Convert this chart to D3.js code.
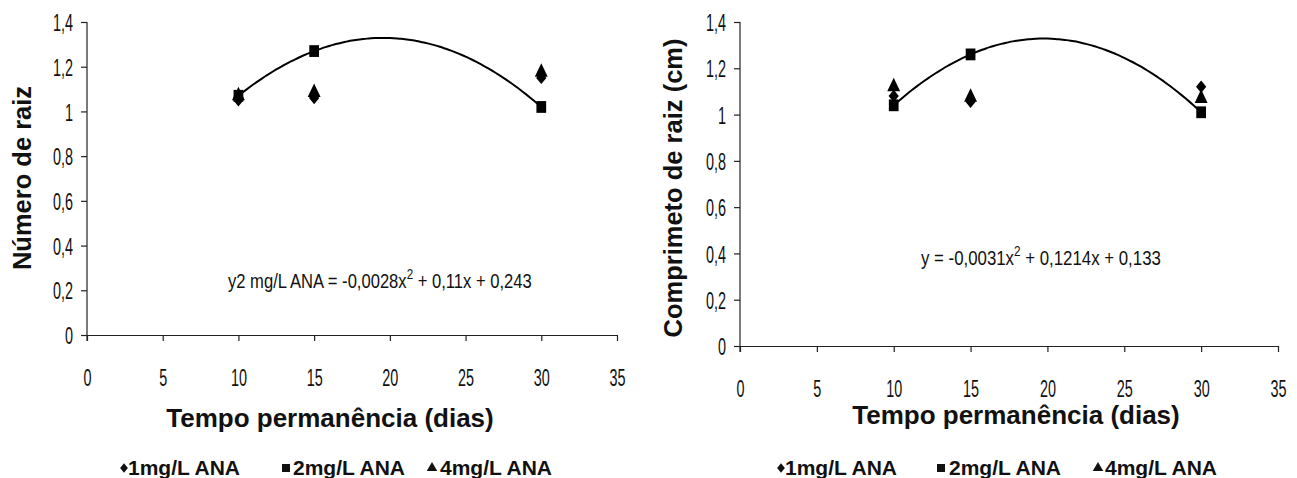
<!DOCTYPE html>
<html>
<head>
<meta charset="utf-8">
<script src="https://cdn.jsdelivr.net/npm/d3@7"></script>
<style>
  html, body { margin: 0; padding: 0; background: #fff; }
  svg { display: block; }
  text { font-family: "Liberation Sans", Arial, sans-serif; fill: #111; }
</style>
</head>
<body>
<svg id="chart" width="1297" height="478"></svg>
<script>
// ---------- data ----------
const days = [10, 15, 30];
const seriesNames = ["1mg/L ANA", "2mg/L ANA", "4mg/L ANA"];

// Left chart: Número de raiz
const raizNum1 = [1.05, 1.06, 1.15];
const raizNum2 = [1.07, 1.27, 1.02];
const raizNum4 = [1.07, 1.085, 1.175];

// Right chart: Comprimento de raiz (cm)
const raizComp1 = [1.08, 1.055, 1.12];
const raizComp2 = [1.04, 1.26, 1.01];
const raizComp4 = [1.12, 1.075, 1.07];

const xTickValues = [0, 5, 10, 15, 20, 25, 30, 35];
const xTickLabels = ["0", "5", "10", "15", "20", "25", "30", "35"];
const yTickValues = [0, 0.2, 0.4, 0.6, 0.8, 1, 1.2, 1.4];
const yTickLabels = ["0", "0,2", "0,4", "0,6", "0,8", "1", "1,2", "1,4"];

const leftEquation = ["y2 mg/L ANA = -0,0028x", "2", " + 0,11x + 0,243"];
const rightEquation = ["y = -0,0031x", "2", " + 0,1214x + 0,133"];

// ---------- helpers ----------
const svg = d3.select("#chart");

// least-squares quadratic fit (trendline of the 2 mg/L series)
function quadFit(xs, ys) {
  const n = xs.length;
  let S = [0,0,0,0,0], T = [0,0,0];
  for (let i = 0; i < n; i++) {
    const x = xs[i], y = ys[i];
    for (let k = 0; k < 5; k++) S[k] += Math.pow(x, k);
    for (let k = 0; k < 3; k++) T[k] += y * Math.pow(x, k);
  }
  const A = [[S[0],S[1],S[2],T[0]],[S[1],S[2],S[3],T[1]],[S[2],S[3],S[4],T[2]]];
  for (let i = 0; i < 3; i++) {
    let p = i;
    for (let r = i+1; r < 3; r++) if (Math.abs(A[r][i]) > Math.abs(A[p][i])) p = r;
    [A[i], A[p]] = [A[p], A[i]];
    for (let r = 0; r < 3; r++) if (r !== i) {
      const f = A[r][i] / A[i][i];
      for (let c = i; c < 4; c++) A[r][c] -= f * A[i][c];
    }
  }
  const c0 = A[0][3]/A[0][0], c1 = A[1][3]/A[1][1], c2 = A[2][3]/A[2][2];
  return x => c0 + c1*x + c2*x*x;
}

function condensed(parent, x, y, parts, size, targetW) {
  const g = parent.append("g");
  const t = g.append("text").attr("font-size", size).attr("fill", "#111");
  t.append("tspan").text(parts[0]);
  t.append("tspan").attr("font-size", size*0.7).attr("dy", -size*0.42).text(parts[1]);
  t.append("tspan").attr("dy", size*0.42).text(parts[2]);
  const w = t.node().getComputedTextLength();
  const sx = targetW / w;
  g.attr("transform", `translate(${x},${y}) scale(${sx},1)`);
}

// marker shapes (Excel style)
const markerDefs = [
  {type: d3.symbolSquare, size: 58, rot: 45},   // diamond
  {type: d3.symbolSquare, size: 105, rot: 0},   // square
  {type: d3.symbolTriangle, size: 80, rot: 0}   // triangle
];

const tickSX = 0.6;

function drawPanel(cfg) {
  const x = d3.scaleLinear().domain([0, 35]).range([cfg.x0, cfg.x1]);
  const y = d3.scaleLinear().domain([0, 1.4]).range([cfg.y0, cfg.y1]);
  const g = svg.append("g");

  // x axis
  const xa = g.append("g").attr("transform", `translate(0,${cfg.y0})`)
    .call(d3.axisBottom(x).tickValues(xTickValues)
      .tickFormat((d, i) => xTickLabels[i]).tickSize(6).tickSizeOuter(0).tickPadding(0));
  xa.select(".domain").attr("stroke", "#222").attr("stroke-width", 1.2);
  xa.selectAll(".tick line").attr("stroke", "#222").attr("stroke-width", 1.2);
  xa.selectAll(".tick text")
    .attr("font-size", 24).attr("fill", "#111")
    .attr("font-family", "'Liberation Sans', Arial, sans-serif")
    .attr("y", cfg.xLabelDy).attr("dy", 0)
    .attr("transform", `scale(${tickSX},1)`);

  // y axis
  const ya = g.append("g").attr("transform", `translate(${cfg.x0},0)`)
    .call(d3.axisLeft(y).tickValues(yTickValues)
      .tickFormat((d, i) => yTickLabels[i]).tickSize(6).tickSizeOuter(0));
  ya.select(".domain").attr("stroke", "#222").attr("stroke-width", 1.2)
    .attr("d", `M0,${cfg.y1}V${cfg.y0 + 6}`);
  ya.selectAll(".tick line").attr("stroke", "#222").attr("stroke-width", 1.2);
  ya.selectAll(".tick text")
    .attr("font-size", 24).attr("fill", "#111")
    .attr("font-family", "'Liberation Sans', Arial, sans-serif")
    .attr("x", -14 / tickSX).attr("dy", "0.36em")
    .attr("transform", `scale(${tickSX},1)`);

  // trendline
  const f = quadFit(days, cfg.s2);
  const xs = d3.range(days[0], days[days.length-1] + 0.001, 0.25);
  g.append("path")
    .attr("d", d3.line().x(d => x(d)).y(d => y(f(d))).curve(d3.curveBasis)(xs))
    .attr("fill", "none").attr("stroke", "#000").attr("stroke-width", 2);

  // markers
  [cfg.s1, cfg.s2, cfg.s4].forEach((vals, si) => {
    const m = markerDefs[si];
    g.selectAll(null).data(days.map((d, i) => [d, vals[i]])).join("path")
      .attr("transform", d => `translate(${x(d[0])},${y(d[1])}) scale(0.95,1.15) rotate(${m.rot})`)
      .attr("d", d3.symbol().type(m.type).size(m.size))
      .attr("fill", "#000");
  });

  // axis titles
  g.append("text")
    .attr("transform", `translate(${cfg.yTitleX},${cfg.yTitleY}) rotate(-90)`)
    .attr("text-anchor", "middle").attr("dy", "0.36em")
    .attr("font-size", 25.5).attr("font-weight", "bold").attr("fill", "#1a1a1a")
    .text(cfg.yTitle);
  g.append("text")
    .attr("x", cfg.xTitleX).attr("y", cfg.xTitleY)
    .attr("text-anchor", "middle")
    .attr("font-size", 26).attr("font-weight", "bold").attr("fill", "#1a1a1a")
    .text("Tempo permanência (dias)");

  // equation
  condensed(g, cfg.eqX, cfg.eqY, cfg.eq, 21, cfg.eqW);

  // legend
  const legSyms = [
    {type: d3.symbolSquare, size: 30, rot: 45, sy: 1.25},
    {type: d3.symbolSquare, size: 64, rot: 0, sy: 1.0},
    {type: d3.symbolTriangle, size: 48, rot: 0, sy: 1.0}
  ];
  seriesNames.forEach((name, i) => {
    const lx = cfg.legX[i];
    const s = legSyms[i];
    g.append("path")
      .attr("transform", `translate(${lx + 4},${cfg.legY - 7}) scale(1,${s.sy}) rotate(${s.rot})`)
      .attr("d", d3.symbol().type(s.type).size(s.size))
      .attr("fill", "#111");
    g.append("text")
      .attr("x", lx + cfg.legGap[i]).attr("y", cfg.legY)
      .attr("font-size", 21).attr("font-weight", "bold").attr("fill", "#111")
      .text(String(name));
  });
}

drawPanel({
  x0: 87, x1: 617, y0: 335, y1: 22,
  xLabelDy: 51,
  s1: raizNum1, s2: raizNum2, s4: raizNum4,
  yTitle: "Número de raiz", yTitleX: 22, yTitleY: 178,
  xTitleX: 330, xTitleY: 427,
  eq: leftEquation, eqX: 228, eqY: 288, eqW: 304,
  legX: [120, 282, 428], legGap: [8, 11, 12], legY: 475
});

drawPanel({
  x0: 740, x1: 1278, y0: 346, y1: 22,
  xLabelDy: 51,
  s1: raizComp1, s2: raizComp2, s4: raizComp4,
  yTitle: "Comprimeto de raiz (cm)", yTitleX: 673, yTitleY: 188,
  xTitleX: 1016, xTitleY: 424,
  eq: rightEquation, eqX: 921, eqY: 265, eqW: 240,
  legX: [777, 937, 1094], legGap: [8, 12, 11], legY: 475
});
</script>
</body>
</html>
